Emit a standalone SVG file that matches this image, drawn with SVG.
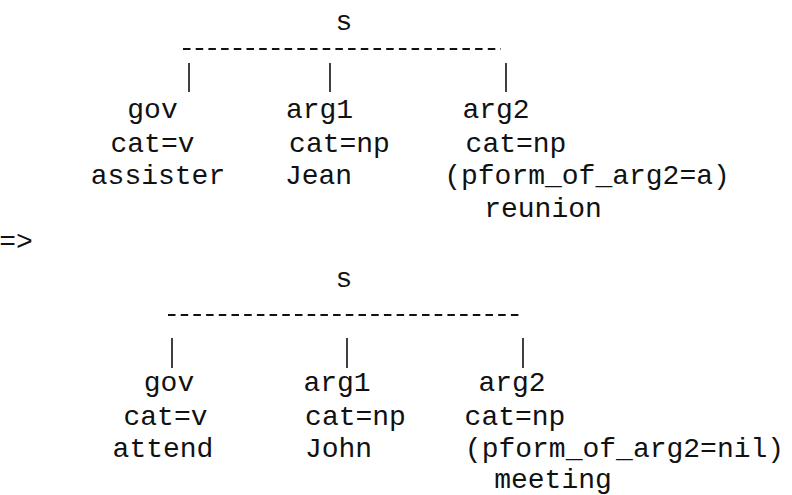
<svg xmlns="http://www.w3.org/2000/svg" width="792" height="495" viewBox="0 0 792 495">
<style>
text{font-family:"Liberation Mono","DejaVu Sans Mono",monospace;font-size:28px;fill:#111;text-anchor:middle}
.bar{stroke:#111;stroke-width:1.8;stroke-dasharray:7.5 5.2;fill:none}
.pipe{stroke:#111;stroke-width:1.6;fill:none}
</style>
<rect width="792" height="495" fill="#fff"/>
<g id="connectors">
<line class="bar" x1="183" y1="49" x2="501" y2="49"/>
<line class="pipe" x1="189" y1="63" x2="189" y2="92"/>
<line class="pipe" x1="330" y1="63" x2="330" y2="92"/>
<line class="pipe" x1="506" y1="63" x2="506" y2="92"/>
<line class="bar" x1="168" y1="315" x2="521" y2="315"/>
<line class="pipe" x1="172" y1="338" x2="172" y2="368"/>
<line class="pipe" x1="347" y1="338" x2="347" y2="368"/>
<line class="pipe" x1="523" y1="338" x2="523" y2="368"/>
</g>
<g id="s1"><text x="344" y="30">s</text></g>
<g id="gov1">
<text x="152.5" y="118">gov</text>
<text x="152.5" y="152">cat=v</text>
<text x="158" y="184">assister</text>
</g>
<g id="arg1_1">
<text x="319.5" y="118">arg1</text>
<text x="339.5" y="152">cat=np</text>
<text x="318.5" y="184">Jean</text>
</g>
<g id="arg2_1">
<text x="496" y="118">arg2</text>
<text x="516" y="152">cat=np</text>
<text x="587" y="184">(pform_of_arg2=a)</text>
<text x="543" y="217">reunion</text>
</g>
<g id="arrow"><text x="16" y="250">=&gt;</text></g>
<g id="s2"><text x="344" y="287">s</text></g>
<g id="gov2">
<text x="169" y="391">gov</text>
<text x="165.5" y="425">cat=v</text>
<text x="163" y="457">attend</text>
</g>
<g id="arg1_2">
<text x="337" y="391">arg1</text>
<text x="355.5" y="425">cat=np</text>
<text x="338.5" y="457">John</text>
</g>
<g id="arg2_2">
<text x="512" y="391">arg2</text>
<text x="515" y="425">cat=np</text>
<text x="624.5" y="457">(pform_of_arg2=nil)</text>
<text x="553" y="488">meeting</text>
</g>
</svg>
